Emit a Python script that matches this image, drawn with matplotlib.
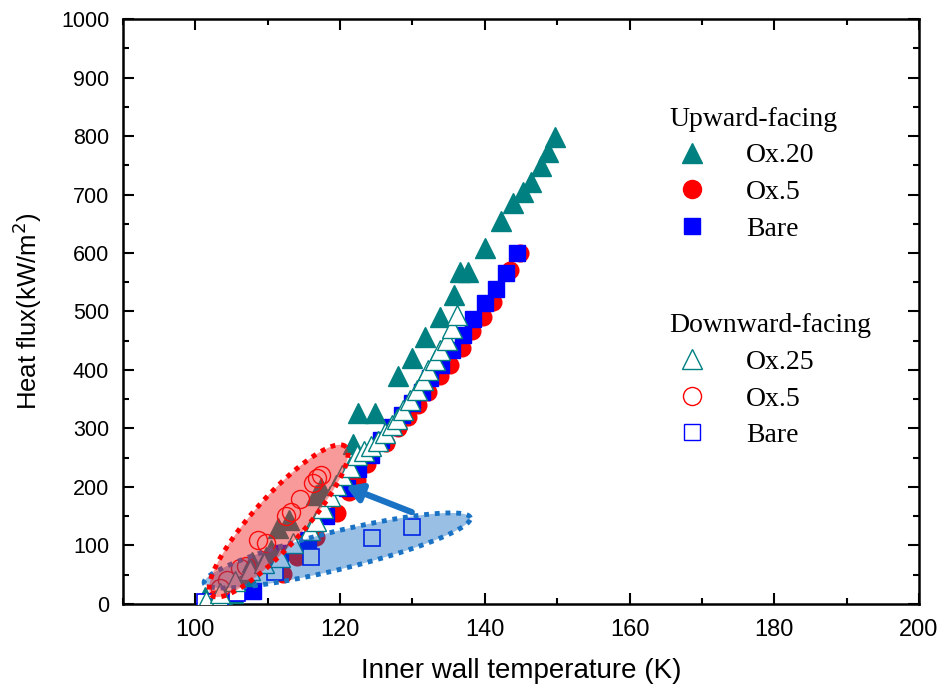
import matplotlib.pyplot as plt
import numpy as np
from matplotlib.patches import Polygon
from matplotlib.lines import Line2D
from matplotlib.ticker import MultipleLocator

# Upward-facing data
up_ox20_T = [101.3, 103.8, 105.2, 107.1, 107.8, 109.8, 110.5, 111.4, 113.0, 116.7, 117.4,
             121.8, 122.5, 124.8, 128.0, 129.9, 131.7, 133.8, 135.7, 136.5, 137.7, 140.0,
             142.2, 143.9, 145.3, 146.4, 147.7, 148.7, 149.7]
up_ox20_q = [12, 12, 18, 47, 72, 81, 92, 130, 143, 186, 198, 273, 326, 326, 389, 420, 457,
             491, 528, 568, 568, 608, 654, 685, 705, 722, 748, 773, 798]

up_ox5_T = [102.7, 106.5, 112.1, 114.0, 116.7, 119.5, 121.2, 122.3, 123.7, 126.4, 128.0,
            129.4, 130.8, 132.2, 133.8, 135.2, 136.8, 138.2, 139.8, 141.1, 143.5, 144.8]
up_ox5_q = [8, 25, 52, 81, 115, 155, 191, 212, 240, 275, 300, 320, 340, 363, 389, 409, 437,
            466, 491, 517, 571, 600]

up_bare_T = [108.0, 111.7, 115.5, 118.1, 120.9, 122.5, 124.2, 125.7, 127.1, 128.5, 129.9,
             131.3, 132.4, 134.0, 135.4, 137.0, 138.4, 140.0, 141.6, 142.9, 144.4]
up_bare_q = [22, 87, 110, 150, 198, 230, 255, 280, 303, 323, 343, 363, 386, 409, 434, 460,
             487, 514, 538, 566, 600]

# Downward-facing data
down_ox25_T = [101.5, 103.4, 105.5, 107.5, 109.5, 111.7, 113.5, 115.8, 116.7, 117.7, 118.6,
               119.4, 120.2, 121.4, 122.3, 123.3, 124.3, 125.3, 126.2, 127.1, 127.8, 128.7,
               129.6, 130.6, 131.5, 132.2, 133.1, 133.8, 134.7, 135.4, 136.1]
down_ox25_q = [5, 19, 40, 58, 70, 81, 105, 126, 141, 164, 184, 203, 221, 235, 255, 262, 270,
               278, 292, 306, 317, 332, 349, 366, 383, 400, 417, 434, 451, 471, 494]

down_ox5_T = [103.4, 104.4, 106.2, 107.0, 108.7, 109.8, 112.5, 113.2, 114.4, 116.2, 116.8, 117.3]
down_ox5_q = [27, 41, 61, 65, 109, 105, 150, 157, 180, 206, 215, 221]

down_bare_T = [101.3, 103.4, 105.7, 111.0, 116.0, 124.4, 130.0]
down_bare_q = [3, 3, 18, 55, 80, 113, 131]

teal = '#008080'

fig = plt.figure(figsize=(9.4, 6.89), dpi=100)
ax = fig.add_axes([0.1309, 0.1234, 0.8468, 0.849])

ax.plot(up_ox5_T, up_ox5_q, 'o', color='red', ms=12, mec='red', zorder=2)
ax.plot(up_bare_T, up_bare_q, 's', color='blue', ms=11, mec='blue', zorder=3)
ax.plot(up_ox20_T, up_ox20_q, '^', color=teal, ms=14, mec=teal, zorder=4)
ax.plot(down_bare_T, down_bare_q, 's', mfc='white', mec='blue', ms=11, mew=1.2, zorder=4)
ax.plot(down_ox5_T, down_ox5_q, 'o', mfc='none', mec='red', ms=13, mew=1.0, zorder=5)
ax.plot(down_ox25_T, down_ox25_q, '^', ls='-', lw=0.8, color=teal, mfc='white', mec=teal,
        ms=14, mew=1.0, zorder=5)

ax.set_xlim(90, 200)
ax.set_ylim(0, 1000)
fig.canvas.draw()


def ellipse_in_data(cx, cy, a_px, b_px, ang_deg):
    # build an ellipse in pixel space and convert it to data coords
    t = np.linspace(0, 2 * np.pi, 200)
    c = ax.transData.transform((cx, cy))
    th = np.deg2rad(ang_deg)
    px = c[0] + a_px * np.cos(t) * np.cos(th) - b_px * np.sin(t) * np.sin(th)
    py = c[1] + a_px * np.cos(t) * np.sin(th) + b_px * np.sin(t) * np.cos(th)
    return ax.transData.inverted().transform(np.column_stack([px, py]))


blue_pts = ellipse_in_data(119.6, 91.5, 137, 19, 13.8)
ax.add_patch(Polygon(blue_pts, closed=True, facecolor=(0.0, 0.38, 0.74), alpha=0.4,
                     edgecolor='none', zorder=6, clip_on=False))
ax.add_patch(Polygon(blue_pts, closed=True, facecolor='none', edgecolor='#1a72c4',
                     lw=3.5, ls=(0, (1, 1.2)), zorder=6, clip_on=False))

red_pts = ellipse_in_data(111.5, 142, 100, 25, 48)
ax.add_patch(Polygon(red_pts, closed=True, facecolor=(0.95, 0.12, 0.12), alpha=0.45,
                     edgecolor='none', zorder=7, clip_on=False))
ax.add_patch(Polygon(red_pts, closed=True, facecolor='none', edgecolor='red',
                     lw=3.5, ls=(0, (1, 1.2)), zorder=7, clip_on=False))

ax.annotate('', xy=(120.8, 201), xytext=(129.9, 157),
            arrowprops=dict(arrowstyle='-|>,head_length=0.9,head_width=0.55',
                            color='#1a72c4', lw=4.5, shrinkA=0, shrinkB=0), zorder=8)

ax.xaxis.set_major_locator(MultipleLocator(20))
ax.xaxis.set_minor_locator(MultipleLocator(10))
ax.yaxis.set_major_locator(MultipleLocator(100))
ax.yaxis.set_minor_locator(MultipleLocator(50))
ax.tick_params(which='both', direction='in', top=True, right=True, width=1.5)
ax.tick_params(which='major', length=8)
ax.tick_params(which='minor', length=4)
ax.tick_params(axis='y', labelsize=15.5, pad=10)
ax.tick_params(axis='x', labelsize=17, pad=11)
for s in ax.spines.values():
    s.set_linewidth(1.8)
for lab in ax.get_yticklabels() + ax.get_xticklabels():
    lab.set_family('Liberation Sans')

ax.set_xlabel('Inner wall temperature (K)', fontsize=20, labelpad=12, family='Liberation Sans')
ax.set_ylabel('Heat flux(kW/m$^2$)', fontsize=18.5, labelpad=12, family='Liberation Sans')

serif = 'Liberation Serif'
up_handles = [
    Line2D([], [], ls='none', marker='^', color=teal, ms=14),
    Line2D([], [], ls='none', marker='o', color='red', ms=13),
    Line2D([], [], ls='none', marker='s', color='blue', ms=11),
]
down_handles = [
    Line2D([], [], ls='none', marker='^', mfc='white', mec=teal, ms=14),
    Line2D([], [], ls='none', marker='o', mfc='white', mec='red', ms=13),
    Line2D([], [], ls='none', marker='s', mfc='white', mec='blue', ms=11),
]
font = {'family': serif, 'size': 20}
leg1 = ax.legend(up_handles, ['Ox.20', 'Ox.5', 'Bare'], title='Upward-facing',
                 loc='upper left', bbox_to_anchor=(0.662, 0.883), frameon=False,
                 prop=font, title_fontproperties=font, handlelength=1.6,
                 alignment='left', labelspacing=0.4, handletextpad=1.15, borderpad=0.2)
ax.add_artist(leg1)
ax.legend(down_handles, ['Ox.25', 'Ox.5', 'Bare'], title='Downward-facing',
          loc='upper left', bbox_to_anchor=(0.662, 0.53), frameon=False,
          prop=font, title_fontproperties=font, handlelength=1.6,
          alignment='left', labelspacing=0.4, handletextpad=1.15, borderpad=0.2)

fig.savefig('out.png', dpi=100)
